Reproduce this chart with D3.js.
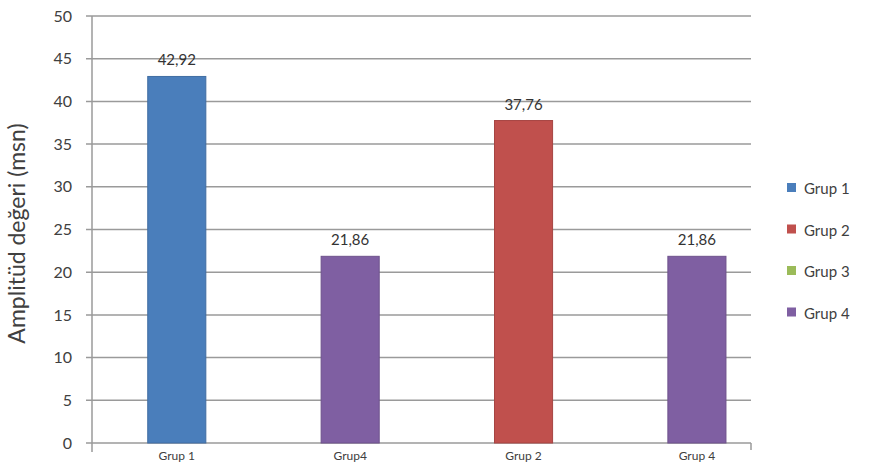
<!DOCTYPE html>
<html>
<head>
<meta charset="utf-8">
<script src="https://cdn.jsdelivr.net/npm/d3@7"></script>
<style>
  html, body { margin: 0; padding: 0; background: #fff; }
  svg { display: block; font-family: Lato, "Open Sans", sans-serif; }
</style>
</head>
<body>
<svg id="chart" width="875" height="470"></svg>
<script>
// Bar categories (axis labels), their values and the series they belong to
const categories = ["Grup 1", "Grup4", "Grup 2", "Grup 4"];
const values = [42.92, 21.86, 37.76, 21.86];
const valueLabels = ["42,92", "21,86", "37,76", "21,86"];
const seriesOf = ["Grup 1", "Grup 4", "Grup 2", "Grup 4"];

// Legend entries and y-axis ticks
const legendSeries = ["Grup 1", "Grup 2", "Grup 3", "Grup 4"];
const yTicks = [0, 5, 10, 15, 20, 25, 30, 35, 40, 45, 50];

const colors = {
  "Grup 1": "#4a7ebb",
  "Grup 2": "#c0504d",
  "Grup 3": "#9bbb59",
  "Grup 4": "#7f5fa2"
};

const svg = d3.select("#chart");
const plot = { left: 92, right: 751, top: 16, bottom: 443 };

const y = d3.scaleLinear().domain([0, 50]).range([plot.bottom, plot.top]);
const x = d3.scaleBand()
  .domain(categories)
  .range([plot.left, plot.right])
  .paddingInner(0.665)
  .paddingOuter(0.233)
  .align(0.69);

// Horizontal gridlines with short ticks left of the axis
svg.append("g")
  .selectAll("line")
  .data(yTicks)
  .join("line")
  .attr("x1", plot.left - 6)
  .attr("x2", plot.right)
  .attr("y1", d => y(d))
  .attr("y2", d => y(d))
  .attr("stroke", "#9a9a9a")
  .attr("stroke-width", 1.5);

// Y axis
const yAxis = d3.axisLeft(y).tickValues(yTicks).tickSize(0).tickPadding(20);
svg.append("g")
  .attr("transform", `translate(${plot.left},0)`)
  .call(yAxis)
  .call(g => g.select(".domain").remove())
  .call(g => g.selectAll("text")
    .attr("font-size", 16)
    .attr("fill", "#404040")
    .attr("font-family", "Lato, 'Open Sans', sans-serif"));

// Axis lines
svg.append("line")
  .attr("x1", plot.left).attr("x2", plot.left)
  .attr("y1", plot.top).attr("y2", plot.bottom + 9)
  .attr("stroke", "#9a9a9a").attr("stroke-width", 1.5);
svg.append("line")
  .attr("x1", plot.right).attr("x2", plot.right)
  .attr("y1", plot.bottom).attr("y2", plot.bottom + 7)
  .attr("stroke", "#9a9a9a").attr("stroke-width", 1.5);

// Bars
svg.append("g")
  .selectAll("rect")
  .data(categories)
  .join("rect")
  .attr("x", d => x(d))
  .attr("width", x.bandwidth())
  .attr("y", (d, i) => y(values[i]))
  .attr("height", (d, i) => y(0) - y(values[i]))
  .attr("fill", (d, i) => colors[seriesOf[i]])
  .attr("stroke", (d, i) => d3.color(colors[seriesOf[i]]).darker(0.4))
  .attr("stroke-width", 1);

// Value labels above the bars
svg.append("g")
  .selectAll("text")
  .data(categories)
  .join("text")
  .attr("x", d => x(d) + x.bandwidth() / 2)
  .attr("y", (d, i) => y(values[i]) - 11)
  .attr("text-anchor", "middle")
  .attr("font-size", 15)
  .attr("fill", "#333")
  .text((d, i) => valueLabels[i]);

// Category labels below the axis
const xAxis = d3.axisBottom(x).tickSize(0).tickPadding(8);
svg.append("g")
  .attr("transform", `translate(0,${plot.bottom})`)
  .call(xAxis)
  .call(g => g.select(".domain").remove())
  .call(g => g.selectAll("text")
    .attr("font-size", 12)
    .attr("fill", "#404040")
    .attr("font-family", "Lato, 'Open Sans', sans-serif"));

// Y axis title
svg.append("text")
  .attr("transform", `translate(25,${(plot.top + plot.bottom) / 2 + 4}) rotate(-90)`)
  .attr("text-anchor", "middle")
  .attr("font-size", 23)
  .attr("fill", "#404040")
  .text("Amplitüd değeri (msn)");

// Legend
const legend = svg.append("g").attr("transform", "translate(787,189)");
const item = legend.selectAll("g")
  .data(legendSeries)
  .join("g")
  .attr("transform", (d, i) => `translate(0,${i * 41.5})`);
item.append("rect")
  .attr("x", 0).attr("y", -6)
  .attr("width", 9).attr("height", 9)
  .attr("fill", d => colors[d]);
item.append("text")
  .attr("x", 17).attr("y", 0)
  .attr("dy", "0.35em")
  .attr("font-size", 15)
  .attr("fill", "#404040")
  .text(d => d);
</script>
</body>
</html>
